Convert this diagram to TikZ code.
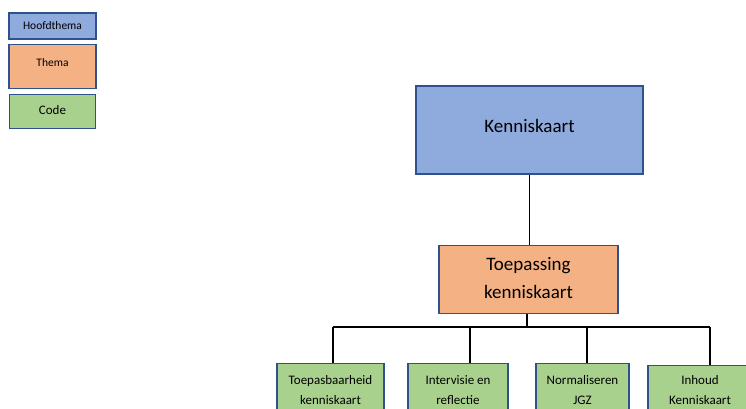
\documentclass[tikz,border=0pt]{standalone}
\usepackage{fontspec}
\setmainfont{Carlito}
\usepackage{xcolor}
\usepackage{tikz}
\usetikzlibrary{positioning}
\definecolor{hoofdblue}{HTML}{8FAADC}
\definecolor{themaorange}{HTML}{F4B183}
\definecolor{codegreen}{HTML}{A9D18E}
\definecolor{randblue}{HTML}{2F528F}

\begin{document}
\begin{tikzpicture}[x=1pt, y=-1pt]
            % Block styles
            \tikzstyle{block} = [rectangle, draw=randblue, line width=1.3pt, text centered, align=center, inner sep=0pt]
            \tikzstyle{hoofd} = [block, fill=hoofdblue]
            \tikzstyle{thema} = [block, fill=themaorange]
            \tikzstyle{code} = [block, fill=codegreen]
            \tikzstyle{legend} = [font=\fontsize{11.5}{14}\selectfont, minimum width=87pt]
            \tikzstyle{leaf} = [code, anchor=north, minimum height=55pt, text depth=2pt, font=\fontsize{13}{20}\selectfont]
            \tikzstyle{link} = [line width=1.2pt]
            \useasboundingbox (0,0) rectangle (746,408);
            \clip (0,0) rectangle (746,408);
            % Legend
            \node[hoofd, legend, minimum height=26pt] (leg_hoofd) at (52.5,26) {Hoofdthema};
            \node[thema, legend, minimum height=44pt, text depth=8pt, below=4pt of leg_hoofd] (leg_thema) {Thema};
            \node[code, legend, minimum width=86pt, minimum height=34pt, text depth=4pt, below=5pt of leg_thema, font=\fontsize{13}{16}\selectfont] (leg_code) {Code};
            % Main tree
            \node[hoofd, minimum width=227pt, minimum height=88pt, text depth=9pt, font=\fontsize{19}{23}\selectfont] (kenniskaart) at (529.5,130) {Kenniskaart};
            \node[thema, minimum width=179pt, minimum height=68pt, text depth=3pt, font=\fontsize{19}{28}\selectfont, below=70pt of kenniskaart, xshift=-1pt] (toepassing) {Toepassing\\kenniskaart};
            \node[leaf, minimum width=107pt] (toepasbaarheid) at (330.5,363) {Toepasbaarheid\\kenniskaart};
            \node[leaf, minimum width=100pt] (intervisie) at (458,363) {Intervisie en\\reflectie};
            \node[leaf, minimum width=93pt] (normaliseren) at (582.5,363) {Normaliseren\\JGZ};
            \node[leaf, minimum width=104pt, minimum height=51pt] (inhoud) at (700,365) {Inhoud\\Kenniskaart};
            % Bus taps
            \coordinate (bus) at (527,327);
            \coordinate (tap1) at (333,327);
            \coordinate (tap2) at (470,327);
            \coordinate (tap3) at (587,327);
            \coordinate (tap4) at (710,327);
            % Connections
            \draw[link] (kenniskaart.south) -- (kenniskaart.south |- toepassing.north);
            \draw[link] (toepassing.south -| bus) -- (bus);
            \draw[link] (tap1) -- (tap4);
            \draw[link] (tap1) -- (tap1 |- toepasbaarheid.north);
            \draw[link] (tap2) -- (tap2 |- intervisie.north);
            \draw[link] (tap3) -- (tap3 |- normaliseren.north);
            \draw[link] (tap4) -- (tap4 |- inhoud.north);
        \end{tikzpicture}
\end{document}
